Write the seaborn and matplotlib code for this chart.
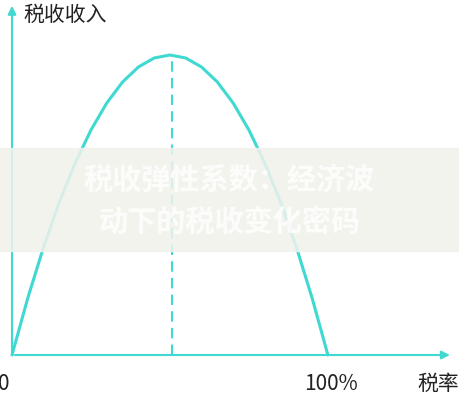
import matplotlib
matplotlib.use("Agg")
import matplotlib.pyplot as plt
import seaborn as sns
import pandas as pd

sns.set_style("white")
plt.rcParams['font.family'] = ['Noto Sans CJK SC', 'DejaVu Sans']

rate = [0, 5, 10, 15, 20, 25, 30, 35, 40, 45, 50, 55, 60, 65, 70, 75, 80, 85, 90, 95, 100]
revenue = [0, 57, 108, 153, 192, 225, 252, 273, 288, 297, 300, 297, 288, 273, 252, 225, 192, 153, 108, 57, 0]
peak_rate = 50.5
df = pd.DataFrame({"rate": rate, "revenue": revenue})

c = "#3fd9d2"
fig = plt.figure(figsize=(4.59, 4.0), dpi=100)
ax = fig.add_axes([0, 0, 1, 1])
ax.set_xlim(-3.8, 141.5)
ax.set_ylim(-45, 355)
ax.axis("off")

sns.lineplot(data=df, x="rate", y="revenue", ax=ax, color=c, lw=2.2)
ax.plot([peak_rate, peak_rate], [0, max(revenue)], color=c, lw=1.5, ls=(0, (5, 3)))

ax.annotate("", xy=(139.5, 0), xytext=(0, 0),
            arrowprops=dict(arrowstyle="-|>", color=c, lw=1.5, mutation_scale=12))
ax.annotate("", xy=(0, 352), xytext=(0, 0),
            arrowprops=dict(arrowstyle="-|>", color=c, lw=1.5, mutation_scale=12))

ax.text(3.5, 340, "税收收入", fontsize=15, va="center", ha="left", color="#222")
ax.text(-2.5, -29, "0", fontsize=15, va="center", ha="center", color="#222")
ax.text(101, -29, "100%", fontsize=15, va="center", ha="center", color="#222")
ax.text(135, -29, "税率", fontsize=15, va="center", ha="center", color="#222")

# watermark band
fig.patches.append(plt.Rectangle((0, 1 - 251/400), 1, 103/400, transform=fig.transFigure,
                                 color="#f2f1ec", alpha=0.85, zorder=5))
fig.text(0.5, 1 - 180/400, "税收弹性系数：经济波", fontsize=21, ha="center", va="center",
         color="white", alpha=0.8, weight="bold", zorder=6)
fig.text(0.5, 1 - 222/400, "动下的税收变化密码", fontsize=21, ha="center", va="center",
         color="white", alpha=0.8, weight="bold", zorder=6)

fig.savefig("out.png", dpi=100)
